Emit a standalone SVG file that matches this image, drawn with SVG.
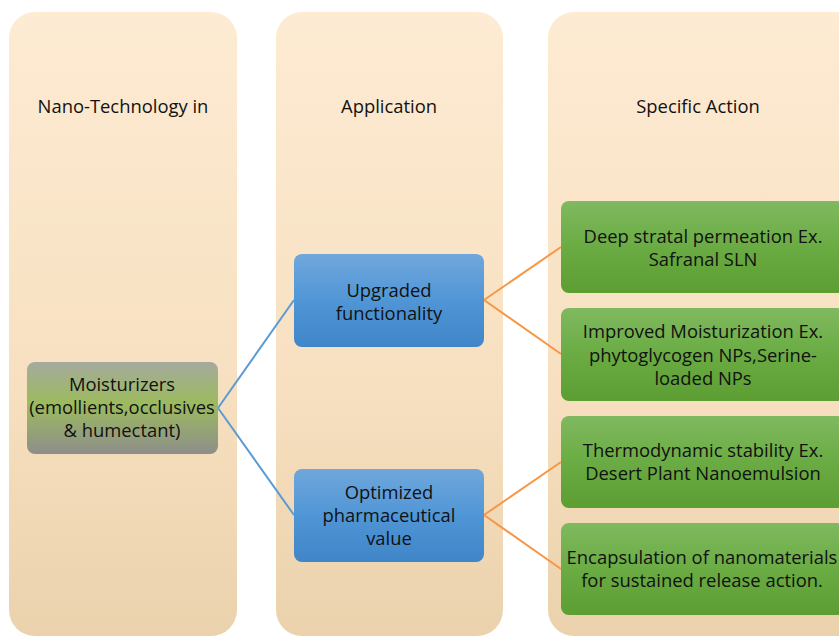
<svg xmlns="http://www.w3.org/2000/svg" width="839" height="637" viewBox="0 0 839 637">
<defs>
<linearGradient id="col" x1="0" y1="0" x2="0" y2="1">
<stop offset="0" stop-color="#fdebd3"/>
<stop offset="0.6" stop-color="#f7e0c0"/>
<stop offset="1" stop-color="#ebd2ad"/>
</linearGradient>
<linearGradient id="gg" x1="0" y1="0" x2="0" y2="1">
<stop offset="0" stop-color="#a5aa9c"/>
<stop offset="0.45" stop-color="#9cbb5e"/>
<stop offset="1" stop-color="#8e8e8a"/>
</linearGradient>
<linearGradient id="bl" x1="0" y1="0" x2="0" y2="1">
<stop offset="0" stop-color="#70a7dc"/>
<stop offset="0.5" stop-color="#5096d6"/>
<stop offset="1" stop-color="#3f85c8"/>
</linearGradient>
<linearGradient id="gr" x1="0" y1="0" x2="0" y2="1">
<stop offset="0" stop-color="#80b960"/>
<stop offset="0.5" stop-color="#6aac43"/>
<stop offset="1" stop-color="#5c9e32"/>
</linearGradient>
</defs>
<style>
text{font-family:"Open Sans","Liberation Sans",Arial,sans-serif;font-size:18.4px;fill:#111;text-anchor:middle}
.c{fill:url(#col)}
.b{stroke:#5b9bd5;stroke-width:2;fill:none}
.o{stroke:#f79646;stroke-width:2;fill:none}
</style>
<g id="col1"><rect class="c" x="9" y="12" width="228" height="624" rx="26"/><text x="123" y="113">Nano-Technology in</text></g>
<g id="col2"><rect class="c" x="276" y="12" width="227" height="624" rx="26"/><text x="389" y="113">Application</text></g>
<g id="col3"><rect class="c" x="548" y="12" width="320" height="624" rx="26"/><text x="698" y="113">Specific Action</text></g>
<g id="connectors">
<path class="b" d="M218 408 L294 300 M218 408 L294 515"/>
<path class="o" d="M484 300 L561 247 M484 300 L561 354 M484 515 L561 462 M484 515 L561 569"/>
</g>
<g id="moisturizers"><rect x="27" y="362" width="191" height="92" rx="8" fill="url(#gg)"/>
<text x="122" y="391">Moisturizers</text><text x="122" y="414">(emollients,occlusives</text><text x="122" y="437">&amp; humectant)</text></g>
<g id="upgraded"><rect x="294" y="254" width="190" height="93" rx="8" fill="url(#bl)"/>
<text x="389" y="297">Upgraded</text><text x="389" y="320">functionality</text></g>
<g id="optimized"><rect x="294" y="469" width="190" height="93" rx="8" fill="url(#bl)"/>
<text x="389" y="499">Optimized</text><text x="389" y="522">pharmaceutical</text><text x="389" y="545">value</text></g>
<g id="deep"><rect x="561" y="201" width="284" height="92" rx="8" fill="url(#gr)"/>
<text x="703" y="243">Deep stratal permeation Ex.</text><text x="703" y="266">Safranal SLN</text></g>
<g id="improved"><rect x="561" y="308" width="284" height="93" rx="8" fill="url(#gr)"/>
<text x="703" y="338">Improved Moisturization Ex.</text><text x="703" y="362">phytoglycogen NPs,Serine-</text><text x="703" y="385">loaded NPs</text></g>
<g id="thermo"><rect x="561" y="416" width="284" height="92" rx="8" fill="url(#gr)"/>
<text x="703" y="457">Thermodynamic stability Ex.</text><text x="703" y="480">Desert Plant Nanoemulsion</text></g>
<g id="encap"><rect x="561" y="523" width="284" height="92" rx="8" fill="url(#gr)"/>
<text x="702" y="564">Encapsulation of nanomaterials</text><text x="702" y="587">for sustained release action.</text></g>
</svg>
